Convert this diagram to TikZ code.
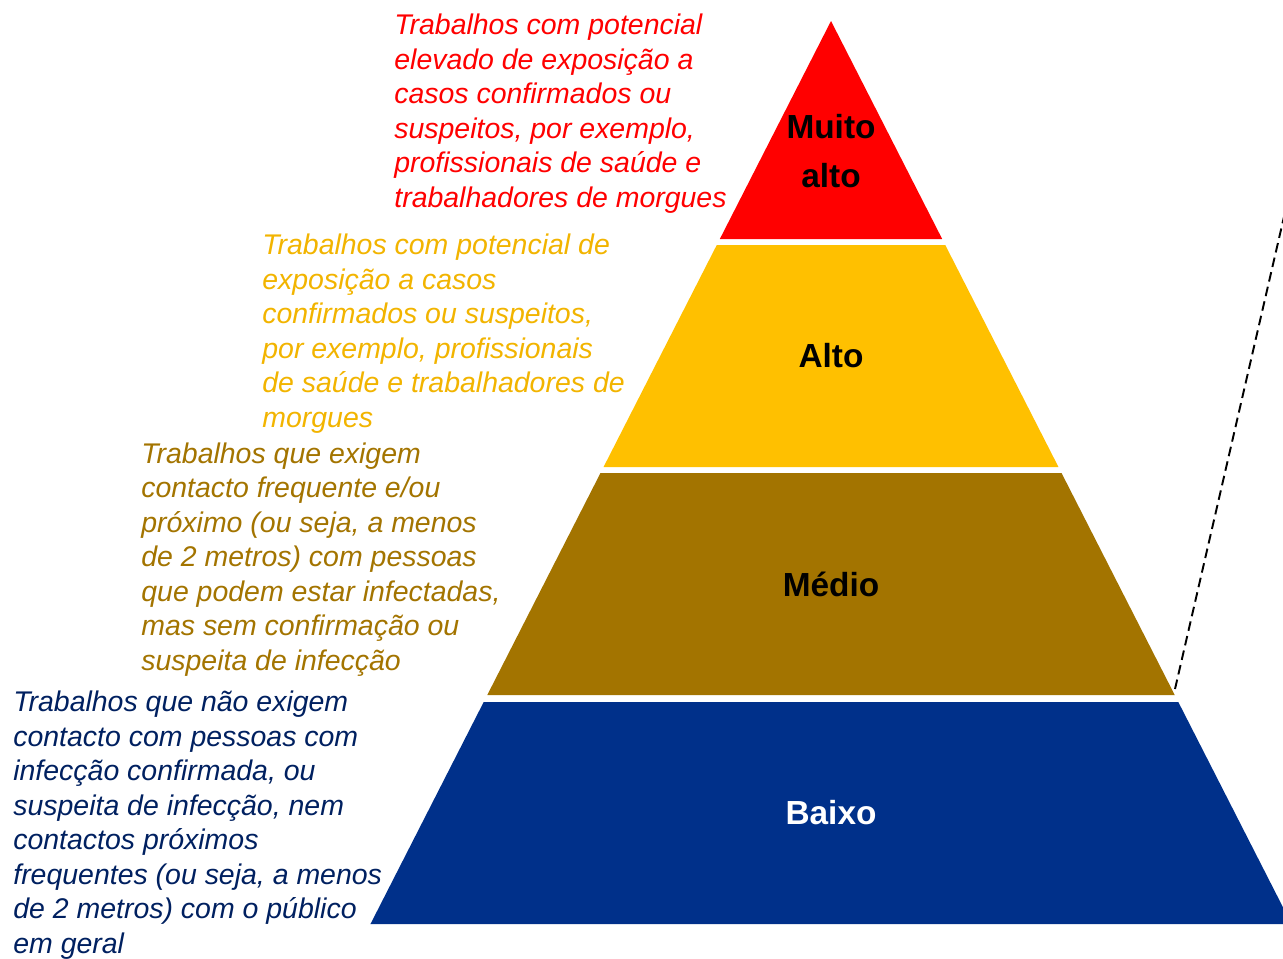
\documentclass[tikz,border=0pt]{standalone}
\usepackage{fontspec}
\setmainfont{Liberation Sans}
\usepackage{xcolor}
\usepackage{tikz}
\usetikzlibrary{calc}
\definecolor{nivelvermelho}{HTML}{FF0000}
\definecolor{nivelamarelo}{HTML}{FFC000}
\definecolor{nivelcastanho}{HTML}{A37400}
\definecolor{nivelazul}{HTML}{00308A}
\definecolor{textoamarelo}{HTML}{F2B400}
\definecolor{textoazul}{HTML}{002060}
\tikzstyle{descricao} = [anchor=base west,inner sep=0pt,align=left,font=\fontsize{16.2}{19.6}\selectfont\itshape]
\tikzstyle{nivel} = [anchor=base,inner sep=0pt,font=\fontsize{19}{28.3}\selectfont\bfseries]
\tikzstyle{tracejado} = [black,line width=1.1pt,dash pattern=on 5.5pt off 3pt]

\begin{document}
\begin{tikzpicture}[x=0.02cm,y=-0.02cm]
				\useasboundingbox (0,0) rectangle (1283,958);
				\clip (0,0) rectangle (1283,958);
				
				% Pyramid:
				% Every layer is a trapezoid cut from the same triangle (apex at 831,21):
				\foreach \topo/\base/\cor in {21/239/nivelvermelho,245/467/nivelamarelo,473/695/nivelcastanho,702/924/nivelazul}{%
					\fill[\cor] ({831-(\topo-21)*0.51},\topo) -- ({831+(\topo-21)*0.51},\topo) -- ({831+(\base-21)*0.51},\base) -- ({831-(\base-21)*0.51},\base) -- cycle;
				}
				
				% Names of the levels:
				\node[nivel,align=center,anchor=center] (muitoalto) at (831,151) {Muito\\alto};
				\node[nivel] (alto) at (831,367) {Alto};
				\node[nivel] (medio) at (831,596) {Médio};
				\node[nivel,text=white] (baixo) at (831,824) {Baixo};
				
				% Descriptions:
				% The base anchor is on the last line, so the y values are those of the last baselines
				\node[descricao,text=nivelvermelho] (txtmuitoalto) at (394,207) {Trabalhos com potencial\\elevado de exposição a\\casos confirmados ou\\suspeitos, por exemplo,\\profissionais de saúde e\\trabalhadores de morgues};
				\node[descricao,text=textoamarelo] (txtalto) at (262,427) {Trabalhos com potencial de\\exposição a casos\\confirmados ou suspeitos,\\por exemplo, profissionais\\de saúde e trabalhadores de\\morgues};
				\node[descricao,text=nivelcastanho] (txtmedio) at (141,670) {Trabalhos que exigem\\contacto frequente e/ou\\próximo (ou seja, a menos\\de 2 metros) com pessoas\\que podem estar infectadas,\\mas sem confirmação ou\\suspeita de infecção};
				\node[descricao,text=textoazul] (txtbaixo) at (13,953) {Trabalhos que não exigem\\contacto com pessoas com\\infecção confirmada, ou\\suspeita de infecção, nem\\contactos próximos\\frequentes (ou seja, a menos\\de 2 metros) com o público\\em geral};
				
				% Dashed line leaving the picture:
				\coordinate (tracoinicio) at (1175,689);
				\coordinate (tracofim) at (1334,0);
				\draw[tracejado] (tracoinicio) -- (tracofim);
\end{tikzpicture}
\end{document}
